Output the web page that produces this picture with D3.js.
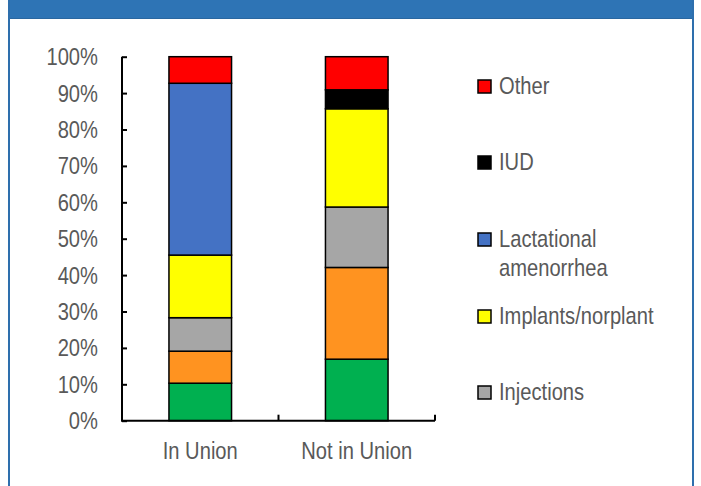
<!DOCTYPE html>
<html><head><meta charset="utf-8">
<script src="https://cdn.jsdelivr.net/npm/d3@7"></script>
<style>
html,body{margin:0;padding:0;background:#fff;}
svg{display:block;}
</style></head>
<body>
<svg id="chart" width="701" height="486"></svg>
<script>
const categories = ["In Union", "Not in Union"];
const seriesNames = ["Pill", "Condoms", "Injections", "Implants/norplant", "Lactational amenorrhea", "IUD", "Other"];
const seriesColors = ["#00B050", "#FF9320", "#A6A6A6", "#FFFF00", "#4472C4", "#000000", "#FF0000"];
const inUnion    = [10.3, 8.8, 9.2, 17.2, 47.2, 0.0, 7.3];
const notInUnion = [16.9, 25.2, 16.6, 27.0, 0.0, 5.2, 9.1];
const yTicks = [0, 10, 20, 30, 40, 50, 60, 70, 80, 90, 100];
const legendItems = ["Other", "IUD", "Lactational amenorrhea", "Implants/norplant", "Injections"];

const svg = d3.select("#chart");
const W = 701, H = 486;
const font = "'Liberation Sans', Arial, sans-serif";
const textColor = "#595959";
const SX = 0.84; // horizontal condensing to mimic a narrow face

function label(parent, x, y, str, anchor) {
  return parent.append("text")
    .attr("transform", `translate(${x},${y}) scale(${SX},1)`)
    .attr("dy", "0.35em")
    .attr("text-anchor", anchor || "start")
    .attr("font-family", font).attr("font-size", 24)
    .attr("fill", textColor).text(str);
}

// frame
svg.append("rect").attr("x", 0).attr("y", 0).attr("width", W).attr("height", H).attr("fill", "#fff");
svg.append("rect").attr("x", 8).attr("y", 0).attr("width", 686).attr("height", 19).attr("fill", "#2E74B5");
svg.append("rect").attr("x", 8).attr("y", 18).attr("width", 686).attr("height", 1).attr("fill", "#2A67A0");
svg.append("rect").attr("x", 8).attr("y", 0).attr("width", 2).attr("height", H).attr("fill", "#2E6FAD");
svg.append("rect").attr("x", 692).attr("y", 0).attr("width", 2).attr("height", H).attr("fill", "#2E6FAD");

const x0 = 122, x1 = 435, y0 = 420.7, y1 = 56.7;
const x = d3.scaleBand().domain(categories).range([x0, x1]).paddingInner(0.6).paddingOuter(0.3);
const y = d3.scaleLinear().domain([0, 100]).range([y0, y1]);

const table = categories.map((c, i) => {
  const vals = i === 0 ? inUnion : notInUnion;
  const row = {category: c};
  seriesNames.forEach((s, j) => row[s] = vals[j]);
  return row;
});
const stack = d3.stack().keys(seriesNames)(table);

const g = svg.append("g");
stack.forEach((layer, li) => {
  g.selectAll(null).data(layer.filter(d => d[1] - d[0] > 0)).enter().append("rect")
    .attr("x", d => x(d.data.category))
    .attr("width", x.bandwidth())
    .attr("y", d => y(d[1]))
    .attr("height", d => y(d[0]) - y(d[1]))
    .attr("fill", seriesColors[li])
    .attr("stroke", "#000")
    .attr("stroke-width", 1.5);
});

// y axis
const yAxis = d3.axisRight(y).tickValues(yTicks).tickSize(5).tickFormat("");
const ya = svg.append("g").attr("transform", `translate(${x0},0)`).call(yAxis);
ya.select(".domain").attr("stroke", "#000").attr("stroke-width", 2).attr("d", `M0,${y1}V${y0}`);
ya.selectAll(".tick line").attr("stroke", "#000").attr("stroke-width", 2);
const yl = svg.append("g");
yTicks.forEach(t => label(yl, 98, y(t), t + "%", "end"));

// x axis
svg.append("line").attr("x1", x0 - 1).attr("x2", x1).attr("y1", y0).attr("y2", y0)
  .attr("stroke", "#000").attr("stroke-width", 2);
const bounds = [ (x("In Union") + x.bandwidth() + x("Not in Union")) / 2, x1 ];
svg.selectAll(null).data(bounds).enter().append("line")
  .attr("x1", d => d).attr("x2", d => d).attr("y1", y0).attr("y2", y0 - 6)
  .attr("stroke", "#000").attr("stroke-width", 2);
const xl = svg.append("g");
categories.forEach(c => label(xl, x(c) + x.bandwidth() / 2, 451, c, "middle"));

// legend
const legY = [86, 162, 239, 316, 392];
const lg = svg.append("g");
legendItems.forEach((name, i) => {
  const col = seriesColors[seriesNames.indexOf(name)];
  lg.append("rect").attr("x", 478).attr("y", legY[i] - 6).attr("width", 13).attr("height", 13)
    .attr("fill", col).attr("stroke", "#000").attr("stroke-width", 1.5);
  if (name === "Lactational amenorrhea") {
    label(lg, 499, legY[i], "Lactational");
    label(lg, 499, legY[i] + 29, "amenorrhea");
  } else {
    label(lg, 499, legY[i], name);
  }
});
</script>
</body></html>
